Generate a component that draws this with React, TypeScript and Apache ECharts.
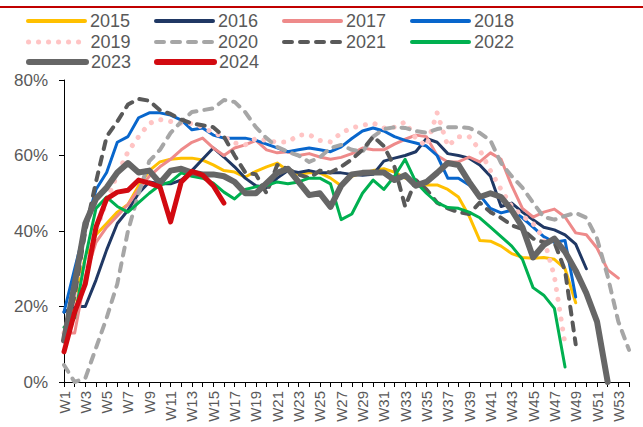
import React, { useEffect, useRef } from "react";
import * as echarts from "echarts";

const weeks = [
  "W1","W2","W3","W4","W5","W6","W7","W8","W9","W10","W11","W12","W13","W14","W15","W16","W17","W18",
  "W19","W20","W21","W22","W23","W24","W25","W26","W27","W28","W29","W30","W31","W32","W33","W34","W35","W36",
  "W37","W38","W39","W40","W41","W42","W43","W44","W45","W46","W47","W48","W49","W50","W51","W52","W53","W54",
];

const yTicks = [0, 20, 40, 60, 80];

const y2015 = [12, 22, 33, 39, 42, 45, 47, 52, 56, 58.3, 59, 59.3, 59.3, 58.8, 57.5, 56, 55.6, 54.3, 55.8, 57, 58, 56, 55, 55.4, 55.4, 54, 52, 54.5, 55.4, 56, 56.5, 55.6, 54, 53, 52.2, 52.2, 51, 49, 44, 37.5, 37.3, 36, 34, 33, 32.8, 33, 32.5, 30, 21];
const y2016 = [18.5, 20, 20, 27, 35, 42, 45.5, 50, 53, 52.5, 52.5, 53.5, 56, 59, 62, 59.6, 57, 54, 52, 51.5, 54, 56, 55.5, 56, 55.4, 55.4, 55.4, 55, 54.8, 55, 58.5, 59.3, 60, 61, 64.5, 63.5, 60.5, 60, 59.3, 57.5, 54.5, 46.5, 47.4, 45, 43, 41, 40.3, 39, 36.5, 30];
const y2017 = [13, 13, 28, 37, 41, 44, 47, 51, 54.5, 57, 59, 61.5, 63.5, 64.6, 62, 60, 62, 62.8, 64, 61.5, 60.7, 61, 60, 60.5, 59.6, 59, 59.5, 60.5, 62, 61.5, 61.5, 63, 64.3, 65.4, 65, 60, 58.3, 58.3, 59.6, 58.3, 60.7, 59, 52, 46, 43.7, 45, 45.8, 43.7, 39.5, 39, 35.5, 29.7, 27.5];
const y2018 = [18.5, 30, 41, 51, 55.5, 63.5, 65, 70, 71.3, 71.3, 70.7, 69.4, 66.8, 67.3, 65.4, 64.6, 64.6, 64.6, 64, 63, 62, 61, 61.5, 62, 61.5, 61, 62.3, 64.5, 66.5, 67.3, 66.5, 65, 64, 63.3, 62.5, 60, 54, 54, 52.2, 49.5, 46, 44.8, 45.5, 43.5, 41, 38.5, 37, 37.5, 22.5];
const y2019 = [13, 22, 32, 40, 48, 55, 61, 65, 68.5, 69.5, 69, 68.5, 68.5, 67.5, 66, 65, 63.3, 62.8, 64.5, 64, 63.5, 63.6, 65.4, 65.5, 64, 63.6, 66, 67.3, 68, 68.6, 67.3, 67.5, 68.9, 64.6, 62.5, 71.3, 62.5, 65, 65, 61.5, 56, 51, 46.5, 44, 42, 38, 28, 10];
const y2020 = [4.5, 0, 1, 9, 17, 26, 40, 50, 58.5, 61.5, 66, 69, 71.5, 72, 72.5, 74.7, 74.2, 71.5, 67.5, 64.6, 62.3, 61, 60, 58.3, 59.5, 62, 62.8, 61.5, 61, 65, 67, 67.5, 67.3, 66.5, 66, 67, 67.5, 67.5, 67.3, 66, 64, 58, 54.5, 51.5, 47.5, 43.7, 43, 44, 44.8, 43.5, 38, 28, 16, 8.5];
const y2021 = [12, 23, 40, 53, 65, 69, 73.5, 75, 74.5, 72, 71, 69.5, 68.5, 68, 67.5, 65, 60, 55.5, 55, 50, 57.5, 56.5, 55, 54, 56, 55.5, 57, 59, 61.5, 65, 62.5, 57, 46.5, 53.5, 51, 47.5, 46, 45, 44.5, 47.5, 45, 43.5, 41.5, 40.5, 38, 37, 37, 29.5, 10];
const y2022 = [14.5, 17, 33, 46, 49, 46.5, 45, 47.5, 50, 52.2, 53, 55.4, 54.5, 54, 52.7, 50.3, 48.5, 51, 51.7, 52, 53, 52.5, 53, 54, 54, 52.5, 43, 44.5, 50, 53.5, 51, 54.5, 59, 53, 50, 47.5, 46.2, 46, 45, 43.5, 41, 38.5, 36, 32.5, 25, 23, 19.5, 4];
const y2023 = [11, 26, 42, 48.5, 51.5, 55.5, 58, 55.5, 56, 52.7, 56, 56.5, 55.5, 55, 55, 54.5, 53, 50, 50, 52.7, 55.4, 56.5, 53, 49.5, 50, 46.4, 52, 55, 55.4, 55.5, 55.5, 53.5, 54.8, 52, 53, 55.4, 58, 57.5, 53, 49, 50, 49, 45.5, 41, 33, 36.3, 38, 34.5, 29.5, 23.5, 16, 0];
const y2024 = [8, 18.5, 26, 41, 48.5, 50.3, 50.8, 53.5, 52.7, 51.7, 42.4, 53, 55.8, 54.8, 52, 47.4];

const seriesNames = ["2015", "2016", "2017", "2018", "2019", "2020", "2021", "2022", "2023", "2024"];
const seriesData = [y2015, y2016, y2017, y2018, y2019, y2020, y2021, y2022, y2023, y2024];

const styles: any[] = [
  { color: "#FFC000", width: 3, lw: 4 },
  { color: "#203864", width: 3, lw: 4 },
  { color: "#EE8A8A", width: 3, lw: 4 },
  { color: "#0866CC", width: 3, lw: 4 },
  { color: "#FFC4C4", width: 5, lw: 5, type: [0.1, 9.9], cap: "round" },
  { color: "#A6A6A6", width: 4, lw: 4, type: [8, 8], cap: "round" },
  { color: "#595959", width: 4, lw: 4, type: [8, 8], cap: "round" },
  { color: "#00B050", width: 3, lw: 4 },
  { color: "#666666", width: 6, lw: 6 },
  { color: "#D20A11", width: 5, lw: 6 },
];

const legendPos = [
  [26, 12], [154, 12], [282, 12], [410, 12],
  [26, 33], [154, 33], [282, 33], [410, 33],
  [26, 53], [154, 53],
];

const FONT = "'Liberation Sans', Arial, sans-serif";

export default function App() {
  const ref = useRef<HTMLDivElement>(null);
  useEffect(() => {
    if (!ref.current) return;
    const chart = echarts.init(ref.current, undefined, { renderer: "svg" });
    const series = seriesNames.map((name, i) => {
      const s = styles[i];
      return {
        name,
        type: "line",
        data: seriesData[i],
        symbol: "none",
        smooth: false,
        connectNulls: false,
        color: s.color,
        lineStyle: {
          color: s.color,
          width: s.width,
          type: s.type || "solid",
          cap: s.cap || "round",
          join: "round",
        },
      };
    });
    const legends = seriesNames.map((name, i) => {
      const s = styles[i];
      return {
        data: [name],
        left: legendPos[i][0],
        top: legendPos[i][1],
        padding: 0,
        itemWidth: 57,
        itemHeight: 18,
        itemGap: 0,
        selectedMode: false,
        itemStyle: { opacity: 0 },
        lineStyle: {
          color: s.color,
          width: s.lw,
          type: s.type || "solid",
          cap: s.cap || "round",
        },
        textStyle: { fontSize: 18, color: "#595959", fontFamily: FONT, padding: [0, 0, 0, 0] },
      };
    });
    chart.setOption({
      animation: false,
      backgroundColor: "#ffffff",
      graphic: [
        { type: "rect", shape: { x: 0, y: 6, width: 643, height: 2 }, style: { fill: "#C00000" } },
      ],
      legend: legends,
      grid: { left: 64, right: 14, top: 80, bottom: 45, containLabel: false },
      xAxis: {
        type: "category",
        data: weeks,
        boundaryGap: false,
        axisLine: { lineStyle: { color: "#000000", width: 1 } },
        axisTick: { show: true, interval: 0, length: 5, lineStyle: { color: "#000000" } },
        axisLabel: {
          interval: 1,
          rotate: 90,
          fontSize: 15,
          color: "#595959",
          fontFamily: FONT,
          margin: 9,
        },
        splitLine: { show: false },
      },
      yAxis: {
        type: "value",
        min: yTicks[0],
        max: yTicks[yTicks.length - 1],
        interval: 20,
        axisLine: { show: true, lineStyle: { color: "#000000", width: 1 } },
        axisTick: { show: true, length: 5, lineStyle: { color: "#000000" } },
        axisLabel: {
          formatter: "{value}%",
          fontSize: 17,
          color: "#595959",
          fontFamily: FONT,
          margin: 16,
        },
        splitLine: { show: false },
      },
      series,
    });
    return () => chart.dispose();
  }, []);
  return (
    <div
      ref={ref}
      style={{ position: "absolute", left: 0, top: 0, width: 643, height: 427, background: "#fff" }}
    />
  );
}
